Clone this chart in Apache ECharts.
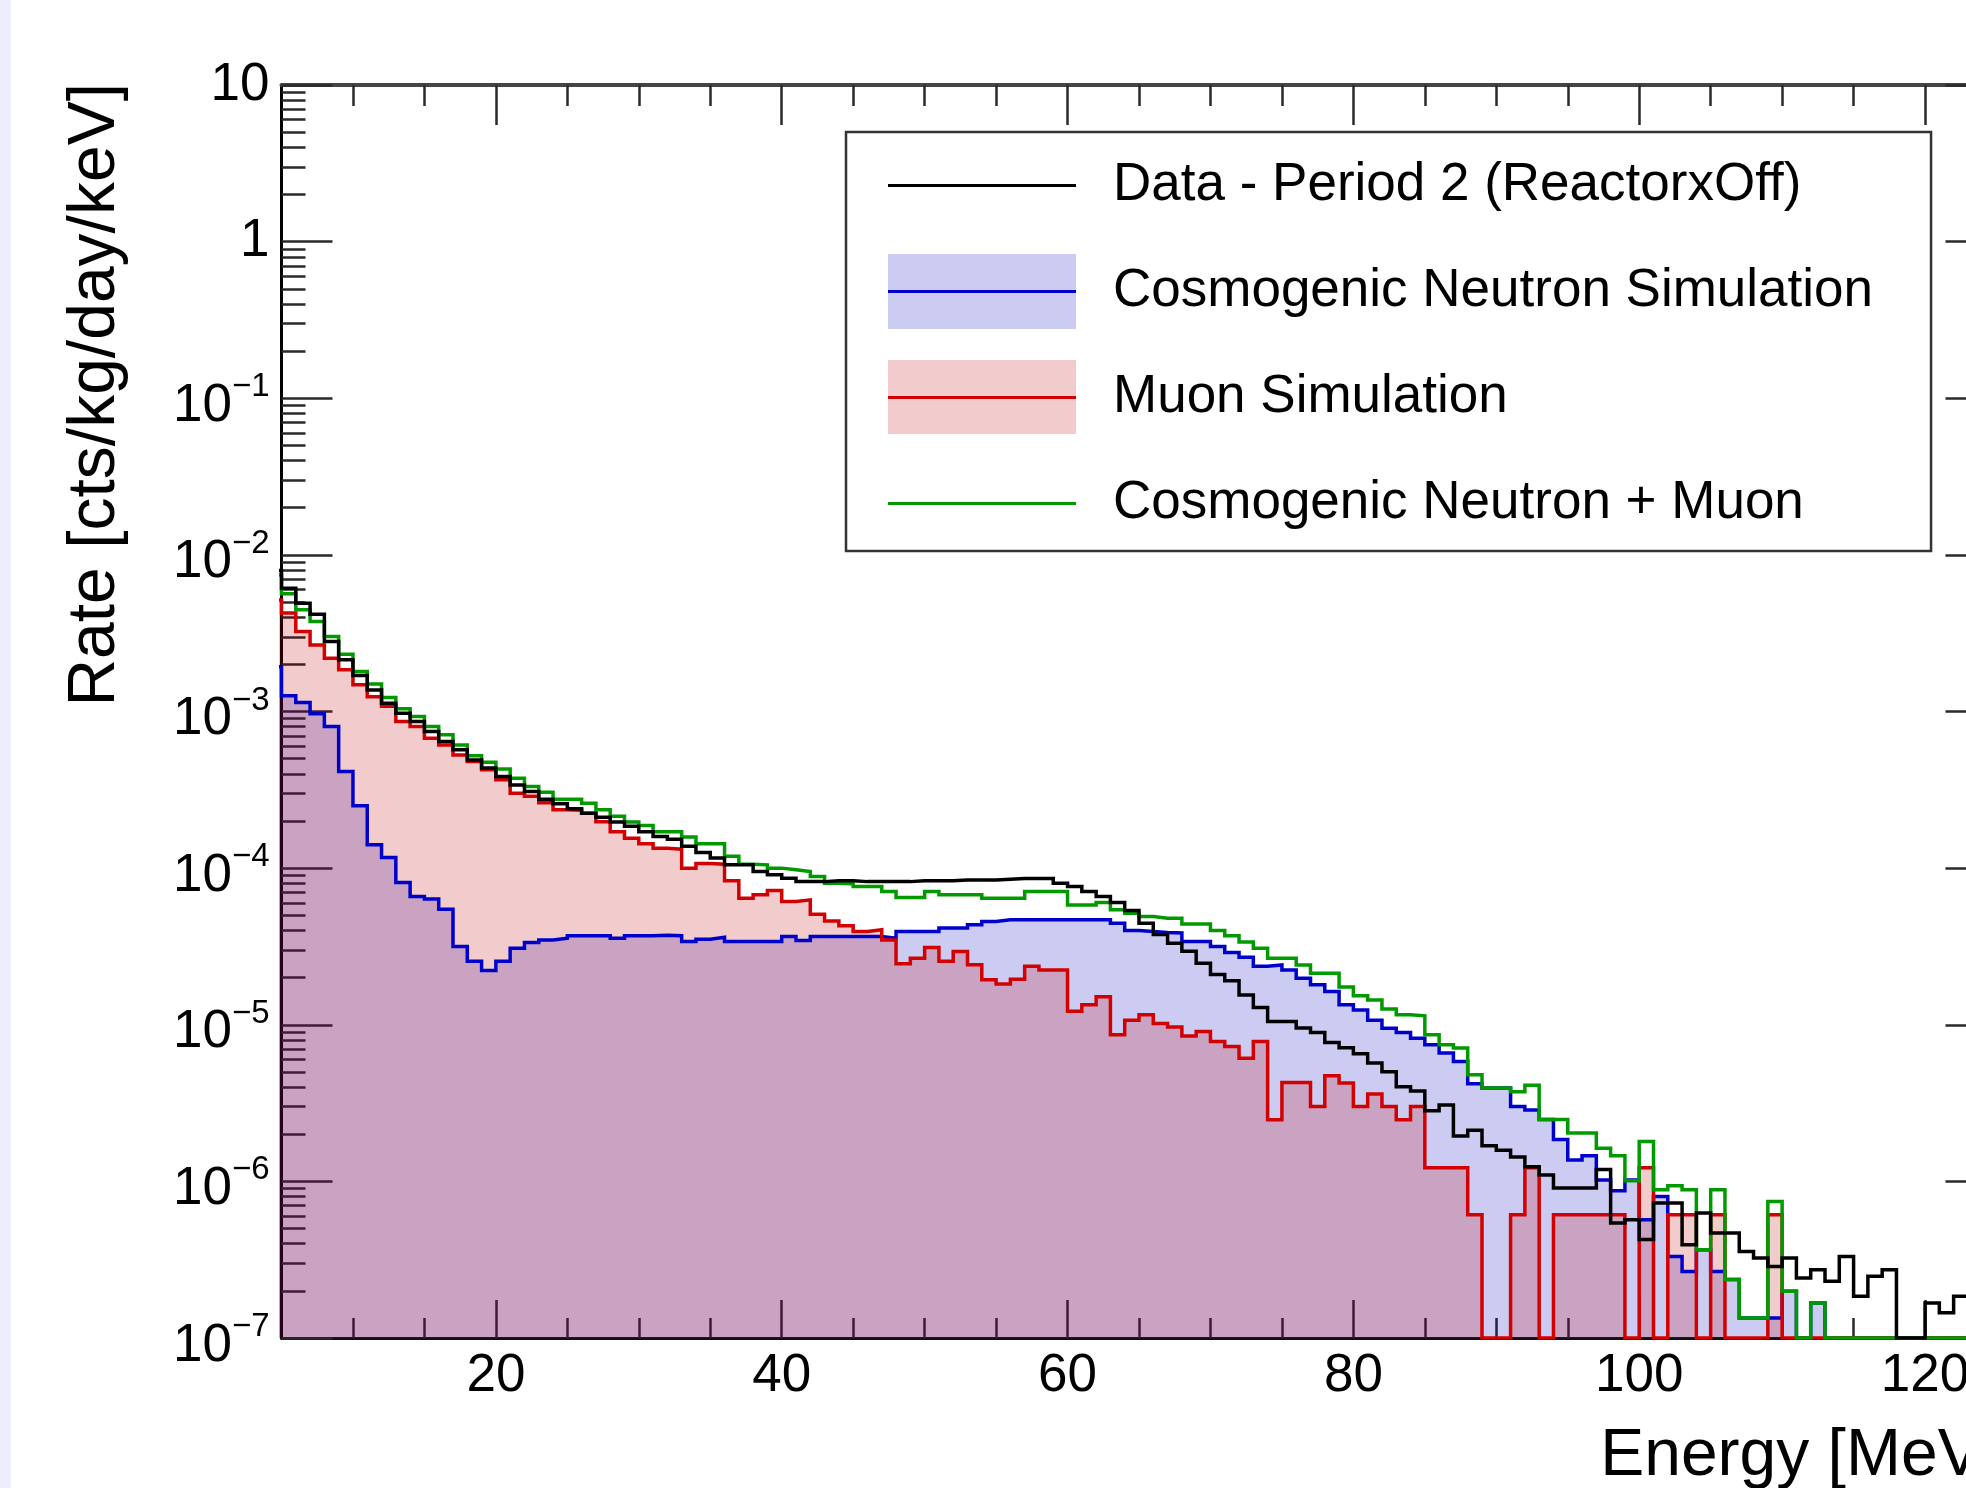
<!DOCTYPE html>
<html>
<head>
<meta charset="utf-8">
<title>Rate vs Energy</title>
<script src="https://cdn.jsdelivr.net/npm/echarts@6/dist/echarts.min.js"></script>
<style>
  html, body { margin: 0; padding: 0; background: #ffffff; overflow: hidden; }
  #chart { position: absolute; left: 0; top: 0; width: 1966px; height: 1488px; }
  #edge { position: absolute; left: 0; top: 0; width: 11px; height: 1488px; background: #ededfb; }
</style>
</head>
<body>
<div id="chart"></div>
<div id="edge"></div>
<script>
// ---------------- DATA ----------------
// Bin edges [MeV] (1 MeV bins). Bin i spans binEdges[i] .. binEdges[i+1]
const binEdges = [4,5,6,7,8,9,10,11,12,13,14,15,16,17,18,19,20,21,22,23,24,25,26,27,28,29,30,31,32,33,34,35,36,37,38,39,40,41,42,43,44,45,46,47,48,49,50,51,52,53,54,55,56,57,58,59,60,61,62,63,64,65,66,67,68,69,70,71,72,73,74,75,76,77,78,79,80,81,82,83,84,85,86,87,88,89,90,91,92,93,94,95,96,97,98,99,100,101,102,103,104,105,106,107,108,109,110,111,112,113,114,115,116,117,118,119,120,121,122,123,124];

// Data - Period 2 (ReactorxOff)  [cts/kg/day/keV], bins 4..122
const dataPeriod2 = [
  7.94e-3, 6.12e-3, 4.91e-3, 4.18e-3, 2.80e-3, 2.14e-3, 1.70e-3, 1.37e-3, 1.13e-3, 9.75e-4,
  8.63e-4, 7.45e-4, 6.43e-4, 5.69e-4, 4.91e-4, 4.35e-4, 3.85e-4, 3.40e-4, 3.08e-4, 2.75e-4,
  2.58e-4, 2.39e-4, 2.24e-4, 2.11e-4, 1.97e-4, 1.85e-4, 1.71e-4, 1.59e-4, 1.53e-4, 1.38e-4,
  1.26e-4, 1.16e-4, 1.05e-4, 1.05e-4, 9.51e-5, 9.06e-5, 8.63e-5, 8.2e-5, 8.2e-5, 8.3e-5,
  8.3e-5, 8.2e-5, 8.2e-5, 8.2e-5, 8.2e-5, 8.3e-5, 8.3e-5, 8.3e-5, 8.4e-5, 8.4e-5,
  8.4e-5, 8.5e-5, 8.6e-5, 8.6e-5, 8.6e-5, 8.02e-5, 7.62e-5, 7.10e-5, 6.59e-5, 6.03e-5,
  5.36e-5, 4.45e-5, 3.77e-5, 3.32e-5, 2.95e-5, 2.47e-5, 2.09e-5, 1.91e-5, 1.55e-5, 1.29e-5,
  1.05e-5, 1.05e-5, 9.55e-6, 8.93e-6, 7.71e-6, 7.13e-6, 6.52e-6, 5.69e-6, 5.01e-6, 4.02e-6,
  3.78e-6, 2.82e-6, 3.07e-6, 1.95e-6, 2.12e-6, 1.69e-6, 1.58e-6, 1.43e-6, 1.24e-6, 1.10e-6,
  9.06e-7, 9.06e-7, 9.06e-7, 1.19e-6, 5.42e-7, 5.69e-7, 4.25e-7, 7.28e-7, 7.28e-7, 3.94e-7,
  6.28e-7, 4.68e-7, 4.68e-7, 3.57e-7, 3.24e-7, 2.86e-7, 3.24e-7, 2.42e-7, 2.73e-7, 2.30e-7,
  3.32e-7, 1.85e-7, 2.48e-7, 2.73e-7, 0, 0, 1.67e-7, 1.45e-7, 1.85e-7
];

// Cosmogenic Neutron Simulation, bins 4..122
const neutronSim = [
  1.93e-3, 1.26e-3, 1.14e-3, 9.66e-4, 8.02e-4, 4.14e-4, 2.50e-4, 1.41e-4, 1.17e-4, 8.09e-5,
  6.59e-5, 6.34e-5, 5.47e-5, 3.16e-5, 2.54e-5, 2.22e-5, 2.54e-5, 3.08e-5, 3.35e-5, 3.48e-5,
  3.57e-5, 3.70e-5, 3.70e-5, 3.70e-5, 3.57e-5, 3.70e-5, 3.70e-5, 3.73e-5, 3.70e-5, 3.40e-5,
  3.52e-5, 3.62e-5, 3.40e-5, 3.40e-5, 3.40e-5, 3.40e-5, 3.66e-5, 3.45e-5, 3.66e-5, 3.66e-5,
  3.66e-5, 3.66e-5, 3.66e-5, 3.57e-5, 3.94e-5, 3.94e-5, 3.94e-5, 4.14e-5, 4.14e-5, 4.35e-5,
  4.56e-5, 4.68e-5, 4.68e-5, 4.68e-5, 4.68e-5, 4.68e-5, 4.68e-5, 4.68e-5, 4.68e-5, 4.45e-5,
  4.00e-5, 3.94e-5, 3.88e-5, 3.85e-5, 3.40e-5, 3.40e-5, 3.16e-5, 2.89e-5, 2.70e-5, 2.36e-5,
  2.41e-5, 2.24e-5, 1.98e-5, 1.80e-5, 1.63e-5, 1.34e-5, 1.24e-5, 1.07e-5, 9.51e-6, 8.93e-6,
  8.20e-6, 7.45e-6, 6.59e-6, 5.82e-6, 4.20e-6, 3.94e-6, 3.94e-6, 3.01e-6, 2.86e-6, 2.48e-6,
  1.85e-6, 1.37e-6, 1.46e-6, 1.02e-6, 8.71e-7, 1.02e-6, 5.69e-7, 8.02e-7, 3.32e-7, 2.66e-7,
  3.66e-7, 2.66e-7, 2.36e-7, 1.34e-7, 1.34e-7, 1.34e-7, 1.99e-7, 0, 1.67e-7, 0,
  0, 0, 0, 0, 0, 0, 0, 0, 0
];

// Muon Simulation, bins 4..122
const muonSim = [
  5.16e-3, 4.25e-3, 3.24e-3, 2.66e-3, 2.19e-3, 1.85e-3, 1.48e-3, 1.24e-3, 1.08e-3, 8.63e-4,
  8.02e-4, 6.76e-4, 6.12e-4, 5.28e-4, 4.79e-4, 4.24e-4, 3.66e-4, 3.01e-4, 2.88e-4, 2.61e-4,
  2.36e-4, 2.34e-4, 2.24e-4, 1.98e-4, 1.71e-4, 1.55e-4, 1.43e-4, 1.34e-4, 1.32e-4, 1.00e-4,
  1.07e-4, 1.06e-4, 8.30e-5, 6.43e-5, 6.75e-5, 7.19e-5, 6.12e-5, 6.27e-5, 5.08e-5, 4.60e-5,
  4.28e-5, 3.94e-5, 4.04e-5, 3.48e-5, 2.45e-5, 2.66e-5, 3.11e-5, 2.54e-5, 2.94e-5, 2.42e-5,
  1.94e-5, 1.82e-5, 1.95e-5, 2.36e-5, 2.24e-5, 2.24e-5, 1.22e-5, 1.34e-5, 1.51e-5, 8.63e-6,
  1.07e-5, 1.16e-5, 1.02e-5, 9.66e-6, 8.49e-6, 9.06e-6, 7.82e-6, 7.26e-6, 6.12e-6, 7.82e-6,
  2.47e-6, 4.28e-6, 4.28e-6, 3.01e-6, 4.72e-6, 4.24e-6, 3.01e-6, 3.61e-6, 3.01e-6, 2.47e-6,
  3.01e-6, 1.22e-6, 1.22e-6, 1.22e-6, 6.12e-7, 0, 0, 6.12e-7, 1.22e-6, 0,
  6.12e-7, 6.12e-7, 6.12e-7, 6.12e-7, 6.12e-7, 0, 1.22e-6, 0, 6.12e-7, 6.12e-7,
  0, 6.12e-7, 0, 0, 0, 6.12e-7, 0, 0, 0, 0,
  0, 0, 0, 0, 0, 0, 0, 0, 0
];

// Cosmogenic Neutron + Muon, bins 4..123
const neutronPlusMuon = [
  7.45e-3, 5.64e-3, 4.46e-3, 3.75e-3, 3.01e-3, 2.32e-3, 1.80e-3, 1.50e-3, 1.23e-3, 1.04e-3,
  9.29e-4, 8.02e-4, 7.10e-4, 6.12e-4, 5.21e-4, 4.75e-4, 4.29e-4, 3.75e-4, 3.32e-4, 3.05e-4,
  2.75e-4, 2.75e-4, 2.60e-4, 2.36e-4, 2.14e-4, 1.97e-4, 1.87e-4, 1.71e-4, 1.71e-4, 1.58e-4,
  1.43e-4, 1.43e-4, 1.19e-4, 1.06e-4, 1.05e-4, 1.00e-4, 9.75e-5, 9.51e-5, 8.83e-5, 8.02e-5,
  7.94e-5, 7.62e-5, 7.62e-5, 7.10e-5, 6.49e-5, 6.49e-5, 7.10e-5, 6.75e-5, 6.75e-5, 6.75e-5,
  6.43e-5, 6.43e-5, 6.43e-5, 7.10e-5, 7.10e-5, 7.10e-5, 5.82e-5, 5.82e-5, 6.03e-5, 5.42e-5,
  5.15e-5, 4.91e-5, 4.79e-5, 4.79e-5, 4.39e-5, 4.39e-5, 4.00e-5, 3.70e-5, 3.37e-5, 3.08e-5,
  2.66e-5, 2.66e-5, 2.41e-5, 2.13e-5, 2.13e-5, 1.74e-5, 1.53e-5, 1.44e-5, 1.26e-5, 1.16e-5,
  1.14e-5, 8.63e-6, 7.45e-6, 7.10e-6, 4.79e-6, 3.94e-6, 3.94e-6, 3.73e-6, 4.11e-6, 2.48e-6,
  2.48e-6, 2.04e-6, 2.04e-6, 1.63e-6, 1.46e-6, 1.01e-6, 1.80e-6, 8.85e-7, 9.38e-7, 8.85e-7,
  3.66e-7, 8.85e-7, 2.36e-7, 1.34e-7, 1.34e-7, 7.45e-7, 1.99e-7, 0, 1.67e-7, 0,
  0, 0, 0, 0, 0, 0, 0, 0, 0, 6.12e-7
];

// Axis ticks / labels
const xTickLabels = [20, 40, 60, 80, 100, 120];
const xMinorTickValues = [10, 15, 25, 30, 35, 45, 50, 55, 65, 70, 75, 85, 90, 95, 105, 110, 115];
const yTickExponents = [-7, -6, -5, -4, -3, -2, -1, 0, 1];

const legendNames = ['Data - Period 2 (ReactorxOff)', 'Cosmogenic Neutron Simulation', 'Muon Simulation', 'Cosmogenic Neutron + Muon'];
const xTitle = 'Energy [MeV]';
const yTitle = 'Rate [cts/kg/day/keV]';

// ---------------- CHART ----------------
const FONT = "'Liberation Sans', Arial, Helvetica, sans-serif";
const X_MIN = 5, X_MAX = 125;
const Y_MIN = 1e-7, Y_MAX = 10;
const BLUE = '#0000cc', RED = '#d20000', GREEN = '#009a00', BLACK = '#000000';
const LW = 3.5;

const yMajorTicks = yTickExponents.map(e => Number('1e' + e));
const yMinorTicks = [];
yTickExponents.forEach(e => {
  if (e >= 1) return;
  for (let m = 2; m <= 9; m++) yMinorTicks.push(Number(m + 'e' + e));
});

// histogram outline points: left edge of every bin, plus closing right edge
function histPoints(values) {
  const pts = [];
  for (let i = 0; i < values.length; i++) {
    pts.push([binEdges[i], Math.max(values[i], Y_MIN)]);
  }
  pts.push([binEdges[values.length], Math.max(values[values.length - 1], Y_MIN)]);
  return pts;
}

const tickLine = { color: '#2a2a2a', width: 2.5 };
const xBase = { type: 'value', min: X_MIN, max: X_MAX, gridIndex: 0, splitLine: { show: false } };
const yBase = { type: 'log', logBase: 10, min: Y_MIN, max: Y_MAX, gridIndex: 0, splitLine: { show: false } };

function yLabel(v) {
  const e = Math.round(Math.log10(v));
  if (e === 1) return '{bn|10}';
  if (e === 0) return '{bn|1}';
  return '{z|\u200b}{bp|10}{s|' + (e < 0 ? '\u2212' : '') + Math.abs(e) + '}';
}

function lineSeries(name, values, color, fill) {
  const s = {
    name: name, type: 'line', step: 'end', xAxisIndex: 0, yAxisIndex: 0,
    data: histPoints(values), symbol: 'none', showSymbol: false, silent: true,
    lineStyle: { color: color, width: LW, join: 'miter', cap: 'butt' }, itemStyle: { color: color },
    emphasis: { disabled: true }
  };
  if (fill) s.areaStyle = { color: fill, opacity: 0.2, origin: 'start' };
  return s;
}

const option = {
  animation: false,
  backgroundColor: '#ffffff',
  grid: { left: 281.5, top: 85, width: 1715, height: 1253, show: false, outerBoundsMode: 'none', containLabel: false },
  xAxis: [
    Object.assign({}, xBase, {
      position: 'bottom',
      axisLine: { show: true, onZero: false, lineStyle: { color: '#111', width: 3 } },
      axisTick: { show: true, inside: true, length: 38, customValues: xTickLabels, lineStyle: tickLine },
      axisLabel: { show: true, customValues: xTickLabels, margin: 12, fontSize: 53, lineHeight: 53, fontFamily: FONT, color: '#000' }
    }),
    Object.assign({}, xBase, {
      position: 'bottom',
      axisLine: { show: false, onZero: false },
      axisTick: { show: true, inside: true, length: 20, customValues: xMinorTickValues, lineStyle: tickLine },
      axisLabel: { show: false }
    }),
    Object.assign({}, xBase, {
      position: 'top',
      axisLine: { show: true, onZero: false, lineStyle: { color: '#444', width: 4 } },
      axisTick: { show: true, inside: true, length: 40, customValues: xTickLabels, lineStyle: tickLine },
      axisLabel: { show: false }
    }),
    Object.assign({}, xBase, {
      position: 'top',
      axisLine: { show: false, onZero: false },
      axisTick: { show: true, inside: true, length: 21, customValues: xMinorTickValues, lineStyle: tickLine },
      axisLabel: { show: false }
    })
  ],
  yAxis: [
    Object.assign({}, yBase, {
      position: 'left',
      axisLine: { show: true, onZero: false, lineStyle: { color: '#000', width: 3 } },
      axisTick: { show: true, inside: true, length: 51, customValues: yMajorTicks, lineStyle: tickLine },
      axisLabel: {
        show: true, customValues: yMajorTicks, margin: 12, formatter: yLabel,
        rich: {
          bn: { fontSize: 53, lineHeight: 49, fontFamily: FONT, color: '#000' },
          z: { fontSize: 53, lineHeight: 69, fontFamily: FONT, color: '#000' },
          bp: { fontSize: 53, lineHeight: 53, fontFamily: FONT, color: '#000', verticalAlign: 'bottom' },
          s: { fontSize: 33, fontFamily: FONT, color: '#000', padding: [7, 0, 0, 0], verticalAlign: 'top' }
        }
      }
    }),
    Object.assign({}, yBase, {
      position: 'left',
      axisLine: { show: false, onZero: false },
      axisTick: { show: true, inside: true, length: 24, customValues: yMinorTicks, lineStyle: tickLine },
      axisLabel: { show: false }
    }),
    Object.assign({}, yBase, {
      position: 'right',
      axisLine: { show: true, onZero: false, lineStyle: { color: '#000', width: 3 } },
      axisTick: { show: true, inside: true, length: 51, customValues: yMajorTicks, lineStyle: tickLine },
      axisLabel: { show: false }
    }),
    Object.assign({}, yBase, {
      position: 'right',
      axisLine: { show: false, onZero: false },
      axisTick: { show: true, inside: true, length: 24, customValues: yMinorTicks, lineStyle: tickLine },
      axisLabel: { show: false }
    })
  ],
  legend: {
    show: true, orient: 'vertical', left: 846, top: 132,
    padding: [27, 58, 21, 42],
    icon: 'rect',
    itemWidth: 188, itemHeight: 3, itemGap: 53,
    borderColor: '#333', borderWidth: 2.5, borderRadius: 0,
    backgroundColor: 'rgba(255,255,255,0)',
    selectedMode: false,
    itemStyle: { borderWidth: 0 },
    textStyle: { fontSize: 53, lineHeight: 53, fontFamily: FONT, color: '#000', padding: [0, 0, 0, 32] },
    data: legendNames
  },
  graphic: [
    { type: 'rect', silent: true, z: 3, shape: { x: 888, y: 254, width: 188, height: 75 }, style: { fill: 'rgba(0,0,190,0.2)' } },
    { type: 'rect', silent: true, z: 3, shape: { x: 888, y: 360, width: 188, height: 74 }, style: { fill: 'rgba(190,0,0,0.2)' } },
    { type: 'text', silent: true, z: 5, x: 2000, y: 1457,
      style: { text: xTitle, fontSize: 66, fontFamily: FONT, fill: '#000', align: 'right', verticalAlign: 'middle' } },
    { type: 'text', silent: true, z: 5, x: 96, y: 83, rotation: Math.PI / 2,
      style: { text: yTitle, fontSize: 66, fontFamily: FONT, fill: '#000', align: 'right', verticalAlign: 'middle' } }
  ],
  series: [
    lineSeries(legendNames[1], neutronSim, BLUE, 'rgb(0,0,190)'),
    lineSeries(legendNames[2], muonSim, RED, 'rgb(190,0,0)'),
    lineSeries(legendNames[3], neutronPlusMuon, GREEN, null),
    lineSeries(legendNames[0], dataPeriod2, BLACK, null)
  ]
};

const chart = echarts.init(document.getElementById('chart'), null, { renderer: 'canvas' });
chart.setOption(option);
</script>
</body>
</html>
